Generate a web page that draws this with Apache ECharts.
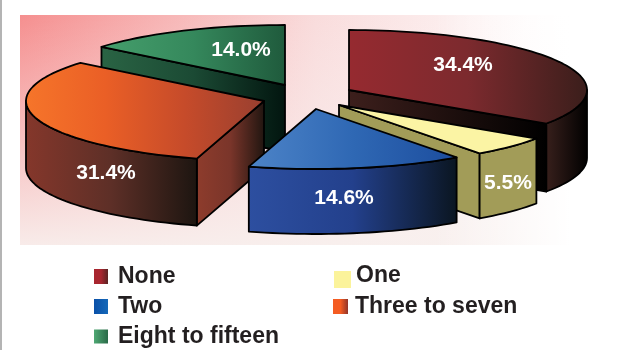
<!DOCTYPE html>
<html>
<head>
<meta charset="utf-8">
<style>html,body{margin:0;padding:0;background:#fff}#c{width:623px;height:350px}</style>
<script src="https://cdn.jsdelivr.net/npm/echarts@6/dist/echarts.min.js"></script>
</head>
<body>
<div id="c"></div>
<script>
const categories = ['None', 'One', 'Two', 'Three to seven', 'Eight to fifteen'];
const shares = [34.4, 5.5, 14.6, 31.4, 14.0];
const valueLabels = ['34.4%', '5.5%', '14.6%', '31.4%', '14.0%'];

// Projection of the tilted pie
const RX = 238, RY = 60;
const TOTAL = shares.reduce((a, b) => a + b, 0);

function grad(stops) {
  return { type: 'linear', x: 0, y: 0, x2: 1, y2: 0,
    colorStops: stops.map((c, i) => ({ offset: i / (stops.length - 1), color: c })) };
}

// Per-slice look: exploded centre, wall depth, label offset, paint order, fills
const looks = [
  { c: [349, 90],  d: 68, lab: [114, -25], z: 3, top: grad(['#962a30', '#7c2a2e', '#3a1e1b']),
    arc: grad(['#38201c', '#000000']), cut: grad(['#3d1f1c', '#000000']), swatch: grad(['#a8262f', '#a8262f', '#5a2423']) },
  { c: [339, 105], d: 65, lab: [169, 78],  z: 5, top: '#fbf4a4',
    arc: '#a29c58', cut: '#a29c58', swatch: '#fbf39b' },
  { c: [316, 109], d: 65, lab: [28, 89],   z: 6, top: grad(['#4d84c8', '#2f68b4', '#1c4d9e']),
    arc: grad(['#2d4fa0', '#23408c', '#0a1520']), cut: '#1c3a7a', swatch: grad(['#0a50a8', '#1568b8']) },
  { c: [264, 101], d: 67, lab: [-158, 72], z: 4, top: grad(['#f6752a', '#ea5f26', '#c64b2a', '#983f30']),
    arc: grad(['#85372b', '#5d2f27', '#1c1510']), cut: grad(['#8e3c2c', '#7a352a', '#1f1510']), swatch: grad(['#f45c22', '#f45c22', '#92352a']) },
  { c: [285, 85],  d: 67, lab: [-44, -35], z: 2, top: grad(['#459f6c', '#35885c', '#1f5a3c']),
    arc: '#1f5a3c', cut: grad(['#2a6444', '#1b4a34', '#02150f']), swatch: grad(['#4fa873', '#2a6a48']) }
];

// The "One" swatch sits lower than its text in the reference: its icon carries blank space above it.
const legendSpots = [
  { left: 94, top: 265, w: 14, h: 15, gap: 5, icon: 'rect' },
  { left: 334, top: 264, w: 17, h: 24, gap: 0, icon: 'path://M0,0M0,7L17,7L17,24L0,24Z' },
  { left: 94, top: 295, w: 14, h: 15, gap: 5, icon: 'rect' },
  { left: 333, top: 295, w: 15, h: 15, gap: 2, icon: 'rect' },
  { left: 94, top: 325, w: 14, h: 14, gap: 5, icon: 'rect' }
];

const rad = d => d * Math.PI / 180;
function onRim(c, deg, dy) {
  return [c[0] + RX * Math.sin(rad(deg)), c[1] - RY * Math.cos(rad(deg)) + (dy || 0)];
}
function arcPoints(c, a, b, dy) {
  const pts = [], n = Math.max(2, Math.ceil(Math.abs(b - a) / 2));
  for (let i = 0; i <= n; i++) pts.push(onRim(c, a + (b - a) * i / n, dy));
  return pts;
}
const edge = { stroke: '#000', lineWidth: 1.8, lineJoin: 'round' };

function cutFace(c, deg, fill, depth) {
  const p = onRim(c, deg);
  return { type: 'polygon',
    shape: { points: [c, p, [p[0], p[1] + depth], [c[0], c[1] + depth]] },
    style: Object.assign({ fill }, edge) };
}

function sliceRenderer(index) {
  let start = 0;
  for (let i = 0; i < index; i++) start += shares[i] / TOTAL * 360;
  const end = start + shares[index] / TOTAL * 360;
  const look = looks[index];
  return function (params, api) {
    const children = [];
    const c = look.c;
    // cut faces that turn toward the viewer
    if (Math.cos(rad(start - 90)) < 0) children.push(cutFace(c, start, look.cut, look.d));
    if (Math.cos(rad(end + 90)) < 0) children.push(cutFace(c, end, look.cut, look.d));
    // outer rim wall on the near half
    const a = Math.max(start, 90), b = Math.min(end, 270);
    if (b > a) {
      const upper = arcPoints(c, a, b, 0), lower = arcPoints(c, b, a, look.d);
      children.push({ type: 'polygon', shape: { points: upper.concat(lower) },
        style: Object.assign({ fill: look.arc }, edge) });
    }
    // top face
    const top = [c].concat(arcPoints(c, start, end, 0));
    children.push({ type: 'polygon', shape: { points: top },
      style: Object.assign({ fill: look.top }, edge) });
    children.push({ type: 'text', style: {
      x: c[0] + look.lab[0], y: c[1] + look.lab[1], text: valueLabels[index],
      fill: '#fff', font: 'bold 21px "Liberation Sans", Arial, sans-serif',
      align: 'center', verticalAlign: 'middle',
      shadowColor: 'rgba(0,0,0,0.55)', shadowBlur: 2 } });
    return { type: 'group', children };
  };
}

const bgBox = { x: 20, y: 15, width: 592, height: 230 };
const option = {
  animation: false,
  backgroundColor: '#fff',
  graphic: [
    { type: 'rect', z: -10, silent: true, shape: { x: 0, y: 0, width: 2, height: 350 }, style: { fill: '#b4b4b4' } },
    { type: 'rect', z: -9, silent: true, shape: bgBox,
      style: { fill: { type: 'linear', x: 0, y: 0, x2: 1, y2: 0, colorStops: [
        { offset: 0, color: '#f58f8f' }, { offset: 0.5, color: '#f9dcdc' }, { offset: 0.95, color: '#ffffff' }, { offset: 1, color: '#ffffff' }] } } },
    { type: 'rect', z: -8, silent: true, shape: bgBox,
      style: { fill: { type: 'linear', x: 0, y: 0, x2: 0, y2: 1, colorStops: [
        { offset: 0, color: 'rgba(250,240,240,0)' }, { offset: 1, color: 'rgba(248,240,238,0.95)' }] } } },
    { type: 'rect', z: -7, silent: true, shape: bgBox,
      style: { fill: { type: 'linear', x: 0, y: 0, x2: 1, y2: 0, colorStops: [
        { offset: 0, color: 'rgba(255,255,255,0)' }, { offset: 0.7, color: 'rgba(255,255,255,0)' }, { offset: 0.93, color: 'rgba(255,255,255,1)' }, { offset: 1, color: 'rgba(255,255,255,1)' }] } } }
  ],
  legend: categories.map((name, i) => ({
    left: legendSpots[i].left, top: legendSpots[i].top, padding: 0,
    itemWidth: legendSpots[i].w, itemHeight: legendSpots[i].h,
    selectedMode: false,
    textStyle: { color: '#231f20', fontFamily: '"Liberation Sans", Arial, sans-serif', fontWeight: 'bold', fontSize: 23, padding: [0, 0, 0, legendSpots[i].gap] },
    data: [{ name, icon: legendSpots[i].icon, itemStyle: { color: looks[i].swatch, borderWidth: 0 } }]
  })),
  series: categories.map((name, i) => ({
    type: 'custom', name, z: looks[i].z, coordinateSystem: 'none',
    data: [[shares[i]]],
    itemStyle: { color: looks[i].swatch },
    renderItem: sliceRenderer(i),
    silent: true
  }))
};
echarts.init(document.getElementById('c'), null, { renderer: 'canvas' }).setOption(option);
</script>
</body>
</html>
